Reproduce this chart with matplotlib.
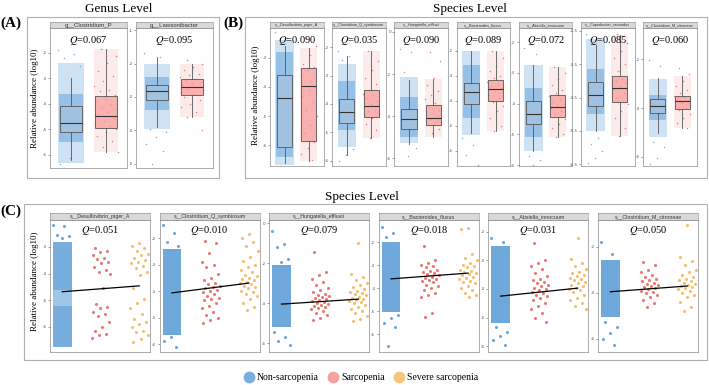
import matplotlib.pyplot as plt
import numpy as np
from matplotlib.lines import Line2D
from matplotlib.patches import Rectangle

plt.rcParams['mathtext.fontset'] = 'stix'
SERIF = 'Liberation Serif'
SANS = 'Liberation Sans'

W, H = 709, 385

c_non = '#5fa0d8'
c_sar = '#e8625b'
c_sev = '#f6b35a'

# ---------------- (A) genus level, boxplots ----------------
a_taxa = ['g__Clostridium_P', 'g__Lawsonibacter']
a_q = ['0.067', '0.095']
a_ticks = [[-2, -3, -4, -5, -6], [-1, -2, -3, -4, -5]]
a_ylim = [(-6.51, -1.02), (-5.12, -0.94)]
# whisker low, q1, median, q3, whisker high
a_box_non = [[-6.2, -5.1, -4.73, -4.08, -2.98], [-3.9, -3.1, -2.83, -2.65, -1.82]]
a_box_sar = [[-5.9, -4.95, -4.48, -3.68, -1.85], [-3.6, -2.95, -2.71, -2.47, -2.0]]
# dense part of the non-sarcopenia cloud: outer low, outer high, core low, core high
a_cloud_non = [(-6.3, -2.4, -5.5, -3.6), (-3.95, -2.0, -3.4, -2.4)]
a_pts_non = [[-1.9, -2.05, -2.2, -2.5, -6.1, -6.35],
             [-1.7, -1.8, -3.95, -4.05, -4.2, -4.4, -4.6, -5.0]]
a_pts_sar = [[-1.85, -2.1, -2.4, -2.7, -2.9, -3.1, -3.3, -3.45, -3.5, -3.65, -3.8, -3.9, -4.0, -4.1,
              -4.2, -4.3, -4.4, -4.55, -4.65, -4.75, -4.85, -4.95, -5.0, -5.1, -5.25, -5.45, -5.7, -5.9],
             [-1.9, -2.0, -2.1, -2.2, -2.3, -2.35, -2.4, -2.45, -2.5, -2.55, -2.6, -2.65, -2.7, -2.75,
              -2.8, -2.9, -3.0, -3.1, -3.2, -3.3, -3.45, -3.6, -4.0]]

# ---------------- (B) species level, boxplots ----------------
b_taxa = ['s__Desulfovibrio_piger_A', 's__Clostridium_Q_symbiosum', 's__Hungatella_effluvii',
          's__Bacteroides_fluxus', 's__Absiella_innocuum', 's__Coprobacter_secundus',
          's__Clostridium_M_citroneae']
b_q = ['0.090', '0.035', '0.090', '0.089', '0.072', '0.085', '0.060']
b_ticks = [[-3, -4, -5, -6], [-2, -3, -4, -5, -6], [0, -2, -4, -6], [-2, -3, -4, -5, -6],
           [-2, -3, -4, -5, -6], [-2.5, -3.5, -4.5, -5.5, -6.5], [-2, -4, -6]]
b_ylim = [(-6.72, -1.97), (-6.18, -1.33), (-6.38, 0.19), (-6.6, -1.08), (-6.03, -1.54),
          (-6.55, -2.41), (-6.37, -0.73)]
b_box_non = [[-6.6, -6.07, -4.38, -3.59, -2.6],
             [-5.8, -4.67, -4.28, -3.82, -2.3],
             [-5.33, -4.62, -4.14, -3.67, -2.29],
             [-5.3, -4.12, -3.64, -3.28, -2.0],
             [-5.55, -4.65, -4.35, -3.9, -2.75],
             [-5.5, -4.76, -4.41, -4.03, -2.91],
             [-5.02, -4.2, -3.92, -3.63, -2.78]]
b_box_sar = [[-6.55, -5.86, -3.97, -3.34, -2.66],
             [-5.2, -4.46, -4.07, -3.5, -2.15],
             [-5.0, -4.43, -4.1, -3.48, -2.24],
             [-5.2, -4.0, -3.52, -3.16, -2.0],
             [-5.1, -4.45, -4.1, -3.73, -2.8],
             [-5.65, -4.62, -4.21, -3.85, -2.62],
             [-4.82, -4.04, -3.71, -3.51, -2.69]]
b_cloud_non = [(-6.7, -2.4, -6.4, -2.8), (-5.5, -2.6, -4.9, -3.2), (-5.3, -2.15, -5.0, -3.1),
               (-5.35, -2.0, -4.7, -2.55), (-5.55, -2.75, -5.1, -3.5), (-5.5, -2.75, -5.0, -3.65),
               (-5.2, -2.8, -4.5, -3.45)]
b_pts_non = [[-2.1, -2.3, -6.75],
             [-2.15, -2.3, -2.45, -5.6, -5.8, -6.0],
             [-0.8, -0.95, -1.9, -5.5, -5.9],
             [-5.5, -5.75, -6.15, -6.55],
             [-2.2, -2.4, -5.7, -5.85, -6.0],
             [-2.6, -5.7, -5.9, -6.1, -6.3, -6.45],
             [-2.05, -2.3, -5.4, -5.6, -6.05, -6.3]]
b_pts_sar = [[-2.3, -2.6, -2.9, -3.2, -3.3, -3.4, -3.6, -3.8, -3.95, -4.0, -4.1, -4.3, -4.5, -4.8,
              -5.0, -5.3, -5.6, -5.9, -6.1, -6.3, -6.5],
             [-2.15, -2.5, -2.8, -3.1, -3.3, -3.5, -3.65, -3.7, -3.8, -3.9, -4.0, -4.1, -4.2,
              -4.25, -4.35, -4.5, -4.7, -4.9, -5.2],
             [-0.95, -1.4, -2.2, -2.5, -2.8, -3.0, -3.2, -3.4, -3.55, -3.7, -3.85, -3.95, -4.0,
              -4.15, -4.25, -4.3, -4.45, -4.6, -4.8],
             [-2.0, -2.3, -2.6, -2.8, -3.0, -3.1, -3.25, -3.35, -3.4, -3.5, -3.6, -3.75, -3.9,
              -4.05, -4.2, -4.4, -4.7, -5.0, -5.2],
             [-2.8, -3.0, -3.2, -3.4, -3.55, -3.65, -3.75, -3.85, -3.95, -4.0, -4.05, -4.15,
              -4.25, -4.35, -4.5, -4.65, -4.8, -5.0, -5.1],
             [-2.6, -2.85, -3.1, -3.3, -3.5, -3.7, -3.85, -3.95, -4.0, -4.05, -4.15, -4.25, -4.35,
              -4.5, -4.7, -4.9, -5.1, -5.4, -5.65],
             [-2.35, -2.6, -2.9, -3.1, -3.25, -3.4, -3.5, -3.55, -3.6, -3.7, -3.8, -3.9, -4.0,
              -4.1, -4.25, -4.4, -4.6, -4.8]]

# ---------------- (C) species level, three groups ----------------
c_taxa = ['s__Desulfovibrio_piger_A', 's__Clostridium_Q_symbiosum', 's__Hungatella_effluvii',
          's__Bacteroides_fluxus', 's__Absiella_innocuum', 's__Clostridium_M_citroneae']
c_q = ['0.051', '0.010', '0.079', '0.018', '0.031', '0.050']
c_ticks = [[-3, -4, -5, -6], [-2, -3, -4, -5, -6], [0, -2, -4, -6], [-2, -3, -4, -5, -6],
           [-2, -3, -4, -5, -6], [-2, -4, -6]]
c_ylim = [(-6.94, -1.99), (-6.3, -1.32), (-6.44, 0.15), (-6.78, -1.04), (-6.21, -1.58),
          (-6.57, -0.83)]
# dense non-sarcopenia strip: (low, high, density)
c_bands_non = [[(-6.75, -5.2, 0.85), (-5.2, -4.6, 0.6), (-4.6, -2.8, 0.85)],
               [(-5.65, -2.4, 0.9)],
               [(-5.2, -2.1, 0.9)],
               [(-5.05, -2.0, 0.9)],
               [(-5.2, -2.5, 0.9)],
               [(-5.05, -2.55, 0.9)]]
c_pts_non = [[-2.18, -2.2, -2.55, -2.6, -2.65],
             [-1.5, -1.8, -2.15, -2.3, -5.75, -5.9, -6.1],
             [-0.4, -1.07, -1.2, -1.8, -1.95, -5.45, -5.7, -5.9, -6.1],
             [-1.35, -1.6, -1.8, -5.15, -5.3, -5.5, -5.7, -6.5],
             [-2.2, -2.35, -5.35, -5.5, -5.65, -5.8, -5.95],
             [-1.8, -2.3, -5.25, -5.5, -5.75, -6.0, -6.25]]
c_pts_sar = [[-3.05, -3.15, -3.2, -3.3, -3.4, -3.45, -3.55, -3.6, -3.75, -3.85, -3.95, -4.0, -4.55,
              -5.15, -5.25, -5.3, -5.45, -5.5, -5.6, -5.8, -6.0, -6.15, -6.25, -6.3, -6.4],
             [-2.1, -2.2, -2.55, -2.9, -3.0, -3.1, -3.35, -3.5, -3.6, -3.7, -3.75, -3.8, -3.85,
              -3.9, -3.95, -4.0, -4.05, -4.1, -4.2, -4.25, -4.3, -4.35, -4.45, -4.55, -4.65,
              -4.8, -4.9, -5.0, -5.1, -5.2],
             [-1.45, -2.45, -2.6, -2.8, -2.95, -3.1, -3.25, -3.35, -3.45, -3.55, -3.6, -3.65,
              -3.7, -3.75, -3.8, -3.85, -3.9, -3.95, -4.0, -4.05, -4.1, -4.15, -4.2, -4.25, -4.3,
              -4.4, -4.5, -4.6, -4.75, -4.85],
             [-2.15, -2.8, -2.9, -3.0, -3.05, -3.1, -3.2, -3.25, -3.3, -3.35, -3.4, -3.45, -3.5,
              -3.55, -3.6, -3.65, -3.7, -3.75, -3.85, -3.9, -4.0, -4.1, -4.2, -4.3, -4.4, -5.1,
              -5.25],
             [-2.4, -3.0, -3.1, -3.2, -3.3, -3.45, -3.55, -3.65, -3.7, -3.75, -3.8, -3.85, -3.9,
              -3.95, -4.0, -4.05, -4.1, -4.15, -4.2, -4.25, -4.3, -4.4, -4.5, -4.6, -4.7, -4.85,
              -5.0, -5.15],
             [-2.65, -2.8, -3.0, -3.1, -3.2, -3.3, -3.4, -3.45, -3.5, -3.55, -3.6, -3.65, -3.7,
              -3.75, -3.8, -3.85, -3.9, -3.95, -4.0, -4.1, -4.2, -4.3, -4.45, -4.6]]
c_pts_sev = [[-2.85, -2.95, -3.05, -3.15, -3.25, -3.3, -3.4, -3.5, -3.55, -3.6, -3.7, -3.8, -3.95,
              -4.05, -4.55, -4.95, -5.1, -5.3, -5.5, -5.7, -5.8, -5.9, -6.0, -6.15, -6.2, -6.3,
              -6.45, -6.55],
             [-1.85, -2.0, -2.15, -2.3, -2.5, -2.7, -2.85, -3.0, -3.1, -3.2, -3.3, -3.4, -3.45,
              -3.5, -3.55, -3.6, -3.65, -3.7, -3.75, -3.8, -3.85, -3.9, -4.0, -4.05, -4.1, -4.2,
              -4.3, -4.45, -4.6, -4.7],
             [-1.0, -2.55, -2.7, -2.85, -3.0, -3.1, -3.2, -3.3, -3.4, -3.45, -3.5, -3.55, -3.6,
              -3.7, -3.75, -3.8, -3.85, -3.9, -3.95, -4.0, -4.1, -4.2, -4.3, -4.4, -4.5, -4.65,
              -4.8, -4.9],
             [-1.4, -1.45, -2.5, -2.7, -2.8, -2.9, -3.0, -3.05, -3.1, -3.2, -3.25, -3.3, -3.35,
              -3.4, -3.45, -3.5, -3.55, -3.6, -3.7, -3.75, -3.8, -3.9, -4.0, -4.1, -4.2, -4.3,
              -4.4],
             [-2.2, -2.95, -3.1, -3.2, -3.3, -3.4, -3.45, -3.5, -3.55, -3.6, -3.65, -3.7, -3.75,
              -3.8, -3.85, -3.9, -3.95, -4.0, -4.05, -4.1, -4.2, -4.3, -4.4, -4.5, -4.6, -4.7],
             [-1.05, -2.45, -2.6, -2.8, -3.0, -3.1, -3.2, -3.3, -3.4, -3.45, -3.5, -3.55, -3.6,
              -3.65, -3.7, -3.75, -3.8, -3.85, -3.9, -4.0, -4.1, -4.2, -4.4, -4.6, -4.8]]
# fitted trend, value at non-sarcopenia and at severe sarcopenia
c_trend_non = [-4.68, -4.07, -4.05, -3.6, -4.25, -3.95]
c_trend_sev = [-4.46, -3.7, -3.8, -3.35, -3.97, -3.7]

leg_labels = ['Non-sarcopenia', 'Sarcopenia', 'Severe sarcopenia']
leg_colors = ['#7aaede', '#f4a29c', '#f8c57f']

fig = plt.figure(figsize=(W / 100, H / 100), dpi=100)


def rect(x0, y0, x1, y1):
    return [x0 / W, 1 - y1 / H, (x1 - x0) / W, (y1 - y0) / H]


def offsets(n, width, shift=0.0):
    # horizontal jitter of the points (position only)
    return ((np.arange(n) * 0.618034 + shift) % 1 - 0.5) * width


def facet(x0, x1, y0, y1, strip_h, taxon, q, ticks, ylim, strip_fs, q_y):
    ax = fig.add_axes(rect(x0, y0, x1, y1))
    st = fig.add_axes(rect(x0, y0 - strip_h, x1, y0))
    st.set_facecolor('#d9d9d9')
    st.set_xticks([])
    st.set_yticks([])
    for s in st.spines.values():
        s.set_color('#8c8c8c')
        s.set_linewidth(0.4)
    st.text(0.5, 0.5, taxon, ha='center', va='center', fontsize=strip_fs,
            color='#333333', family=SANS)
    ax.set_ylim(*ylim)
    ax.set_yticks(ticks)
    ax.set_yticklabels([f'{t:g}' for t in ticks])
    ax.set_xticks([])
    ax.tick_params(axis='y', labelsize=3, length=1.5, width=0.4, pad=1, colors='#555555')
    for s in ax.spines.values():
        s.set_color('#8c8c8c')
        s.set_linewidth(0.5)
    ax.text(0.5, q_y, '$Q$=' + q, transform=ax.transAxes, ha='center', va='center',
            fontsize=7.5, family=SERIF, zorder=5)
    return ax


def box_panel(ax, box_non, box_sar, cloud, pts_non, pts_sar):
    ax.set_xlim(0.4, 2.6)
    lo_o, hi_o, lo_c, hi_c = cloud
    ax.bar(1, hi_o - lo_o, bottom=lo_o, width=0.76, color=c_non, alpha=0.3, lw=0, zorder=1)
    ax.bar(1, hi_c - lo_c, bottom=lo_c, width=0.7, color=c_non, alpha=0.5, lw=0, zorder=1)
    ax.bar(2, box_sar[4] - box_sar[0], bottom=box_sar[0], width=0.7, color=c_sar,
           alpha=0.12, lw=0, zorder=1)
    ax.scatter(1 + offsets(len(pts_non), 0.76), pts_non, s=1.2, color=c_non, alpha=0.8,
               lw=0, zorder=1)
    ax.scatter(2 + offsets(len(pts_sar), 0.7, 0.3), pts_sar, s=1.2, color=c_sar, alpha=0.8,
               lw=0, zorder=1)
    stats = [dict(whislo=b[0], q1=b[1], med=b[2], q3=b[3], whishi=b[4])
             for b in (box_non, box_sar)]
    bp = ax.bxp(stats, positions=[1, 2], widths=0.62, patch_artist=True, showfliers=False,
                showcaps=False, manage_ticks=False,
                boxprops=dict(lw=0.6, edgecolor='#555555'),
                medianprops=dict(color='#333333', lw=0.8),
                whiskerprops=dict(color='#555555', lw=0.6))
    bp['boxes'][0].set_facecolor((0.68, 0.77, 0.86, 0.45))
    bp['boxes'][1].set_facecolor((0.97, 0.6, 0.58, 0.7))
    for art in bp['boxes'] + bp['medians'] + bp['whiskers']:
        art.set_zorder(3)


# panel A
a_x = [(50, 127), (136, 213)]
for i in range(2):
    ax = facet(a_x[i][0], a_x[i][1], 28, 168, 6, a_taxa[i], a_q[i], a_ticks[i], a_ylim[i],
               4.3, 0.914)
    box_panel(ax, a_box_non[i], a_box_sar[i], a_cloud_non[i], a_pts_non[i], a_pts_sar[i])

# panel B
for i in range(7):
    x0 = 270 + i * 62.2
    ax = facet(x0, x0 + 53.5, 28, 166, 6, b_taxa[i], b_q[i], b_ticks[i], b_ylim[i], 2.7, 0.913)
    box_panel(ax, b_box_non[i], b_box_sar[i], b_cloud_non[i], b_pts_non[i], b_pts_sar[i])

# panel C
for i in range(6):
    x0 = 50 + i * 109.6
    ax = facet(x0, x0 + 100, 220, 352, 7, c_taxa[i], c_q[i], c_ticks[i], c_ylim[i], 3.8, 0.917)
    ax.set_xlim(0.68, 3.28)
    for lo, hi, dens in c_bands_non[i]:
        ax.bar(1, hi - lo, bottom=lo, width=0.48, color=c_non, alpha=dens, lw=0, zorder=1)
    ax.scatter(1 + offsets(len(c_pts_non[i]), 0.48), c_pts_non[i], s=5, color=c_non,
               alpha=0.9, lw=0, zorder=2)
    ax.scatter(2 + offsets(len(c_pts_sar[i]), 0.48, 0.2), c_pts_sar[i], s=5, color=c_sar,
               alpha=0.85, lw=0, zorder=2)
    ax.scatter(3 + offsets(len(c_pts_sev[i]), 0.48, 0.5), c_pts_sev[i], s=5, color=c_sev,
               alpha=0.85, lw=0, zorder=2)
    ax.plot([1, 3], [c_trend_non[i], c_trend_sev[i]], color='black', lw=0.9, zorder=4)

# panel frames
for x0, y0, x1, y1 in [(27, 17, 219, 178), (245, 17, 707, 178), (24, 204, 707, 360)]:
    fig.add_artist(Rectangle((x0 / W, 1 - y1 / H), (x1 - x0) / W, (y1 - y0) / H,
                             transform=fig.transFigure, fill=False, ec='#b0b0b0', lw=0.8))

# titles and labels
fig.text(119 / W, 1 - 9 / H, 'Genus Level', ha='center', va='center', fontsize=9.5, family=SERIF)
fig.text(470 / W, 1 - 9 / H, 'Species Level', ha='center', va='center', fontsize=9.5, family=SERIF)
fig.text(362 / W, 1 - 197 / H, 'Species Level', ha='center', va='center', fontsize=9.5,
         family=SERIF)
fig.text(11 / W, 1 - 23 / H, '(A)', ha='center', va='center', fontsize=11, weight='bold',
         family=SERIF)
fig.text(233 / W, 1 - 23 / H, '(B)', ha='center', va='center', fontsize=11, weight='bold',
         family=SERIF)
fig.text(11 / W, 1 - 211 / H, '(C)', ha='center', va='center', fontsize=11, weight='bold',
         family=SERIF)
for x, y in [(35, 98), (256, 95), (35, 281)]:
    fig.text(x / W, 1 - y / H, 'Relative abundance (log10)', rotation=90, ha='center',
             va='center', fontsize=6.5, family=SERIF)

handles = [Line2D([], [], ls='', marker='o', ms=8.5, mfc=c, mec='none') for c in leg_colors]
fig.legend(handles, leg_labels, loc='center', bbox_to_anchor=(361 / W, 1 - 378 / H), ncol=3,
           frameon=False, prop={'family': SERIF, 'size': 7}, handlelength=1.0,
           handletextpad=0.3, columnspacing=1.0)

plt.savefig('out.png', dpi=100)
